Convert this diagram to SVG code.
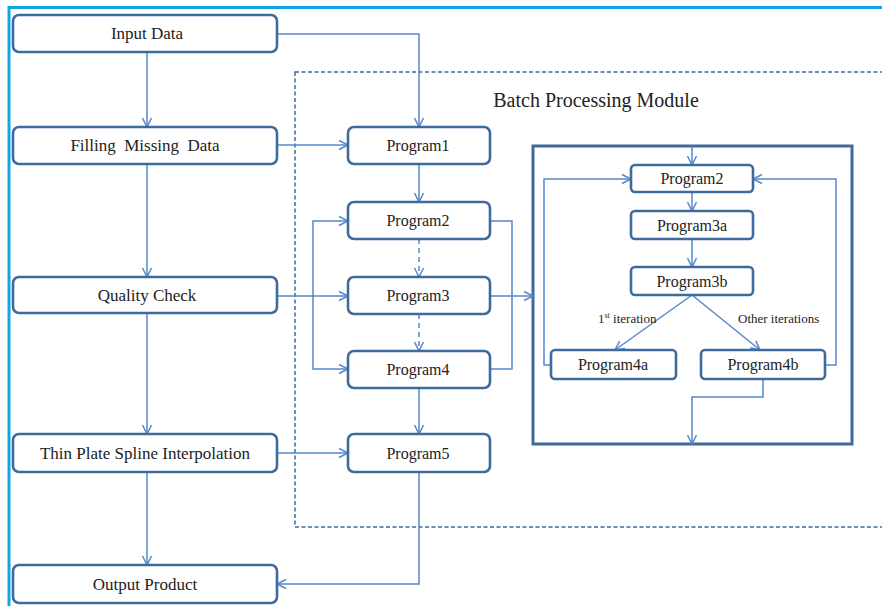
<svg xmlns="http://www.w3.org/2000/svg" width="882" height="606" viewBox="0 0 882 606">
<style>
.box{fill:#fff;stroke:#3f6b9c;stroke-width:2.6}
.t{font-family:"Liberation Serif","Times New Roman",serif;font-size:16px;fill:#222;text-anchor:middle}
.tl{font-size:17px}
.c{fill:none;stroke:#5588cc;stroke-width:1.5}
.a{marker-end:url(#ah)}
.d{stroke-dasharray:5,4}
.lbl{font-family:"Liberation Serif","Times New Roman",serif;font-size:13px;fill:#222}
</style>
<defs>
<marker id="ah" markerUnits="userSpaceOnUse" markerWidth="12" markerHeight="12" refX="10" refY="5.5" orient="auto" overflow="visible">
<path d="M1,1 L10,5.5 L1,10" fill="none" stroke="#5588cc" stroke-width="1.5"/>
</marker>
</defs>
<rect width="882" height="606" fill="#fff"/>
<path d="M9,606 V7.5 H882" fill="none" stroke="#12a5e6" stroke-width="3"/>
<g id="batch-module">
<rect x="295" y="72" width="600" height="455" fill="none" stroke="#3f6b9c" stroke-width="1.5" stroke-dasharray="4,2.5"/>
<text x="596" y="107" class="t" style="font-size:20px">Batch Processing Module</text>
</g>
<g id="inner-module">
<rect x="533" y="146" width="319" height="298" fill="none" stroke="#3f6b9c" stroke-width="3"/>
</g>
<g id="connectors">
<path class="c a" d="M147,52 V127"/>
<path class="c a" d="M147,164 V277"/>
<path class="c a" d="M147,313 V434"/>
<path class="c a" d="M147,472 V565"/>
<path class="c a" d="M277,34 H419 V127"/>
<path class="c a" d="M277,145 H348"/>
<path class="c a" d="M419,164 V202"/>
<path class="c a d" d="M419,239 V277"/>
<path class="c a d" d="M419,314 V351"/>
<path class="c a" d="M419,388 V434"/>
<path class="c a" d="M419,472 V584 H277"/>
<path class="c a" d="M277,296 H348"/>
<path class="c a" d="M277,453 H348"/>
<path class="c a" d="M313,296 V221 H348"/>
<path class="c a" d="M313,296 V369 H348"/>
<path class="c" d="M491,221 H512 V369 H491"/>
<path class="c a" d="M491,296 H533"/>
<path class="c a" d="M692,146 V165"/>
<path class="c a" d="M692,192 V211"/>
<path class="c a" d="M692,239 V267"/>
<path class="c a" d="M692,295 L615,350"/>
<path class="c a" d="M692,295 L760,350"/>
<path class="c a" d="M551,365 H544 V179 H631"/>
<path class="c a" d="M825,365 H836 V179 H753"/>
<path class="c a" d="M763,379 V397 H692 V444"/>
</g>
<text x="598" y="323" class="lbl">1<tspan font-size="8" dy="-5">st</tspan><tspan dy="5"> iteration</tspan></text>
<text x="738" y="323" class="lbl">Other iterations</text>
<g id="input-data"><rect class="box" x="13" y="15" width="264" height="37" rx="6"/><text class="t tl" x="147" y="39">Input Data</text></g>
<g id="filling-missing-data"><rect class="box" x="13" y="127" width="264" height="37" rx="6"/><text class="t tl" x="145" y="151" xml:space="preserve">Filling  Missing  Data</text></g>
<g id="quality-check"><rect class="box" x="13" y="277" width="264" height="36" rx="6"/><text class="t tl" x="147" y="301">Quality Check</text></g>
<g id="thin-plate-spline"><rect class="box" x="13" y="434" width="264" height="38" rx="6"/><text class="t tl" x="145" y="459">Thin Plate Spline Interpolation</text></g>
<g id="output-product"><rect class="box" x="13" y="565" width="264" height="38" rx="6"/><text class="t tl" x="145" y="590">Output Product</text></g>
<g id="program1"><rect class="box" x="348" y="127" width="142" height="37" rx="6"/><text class="t" x="418" y="151">Program1</text></g>
<g id="program2"><rect class="box" x="348" y="202" width="142" height="37" rx="6"/><text class="t" x="418" y="226">Program2</text></g>
<g id="program3"><rect class="box" x="348" y="277" width="142" height="37" rx="6"/><text class="t" x="418" y="301">Program3</text></g>
<g id="program4"><rect class="box" x="348" y="351" width="142" height="37" rx="6"/><text class="t" x="418" y="375">Program4</text></g>
<g id="program5"><rect class="box" x="348" y="434" width="142" height="38" rx="6"/><text class="t" x="418" y="459">Program5</text></g>
<g id="inner-program2"><rect class="box" x="631" y="165" width="122" height="27" rx="4"/><text class="t" x="692" y="184">Program2</text></g>
<g id="program3a"><rect class="box" x="631" y="211" width="122" height="28" rx="4"/><text class="t" x="692" y="231">Program3a</text></g>
<g id="program3b"><rect class="box" x="631" y="267" width="122" height="28" rx="4"/><text class="t" x="692" y="287">Program3b</text></g>
<g id="program4a"><rect class="box" x="551" y="350" width="125" height="29" rx="4"/><text class="t" x="613" y="370">Program4a</text></g>
<g id="program4b"><rect class="box" x="701" y="350" width="124" height="29" rx="4"/><text class="t" x="763" y="370">Program4b</text></g>
</svg>
